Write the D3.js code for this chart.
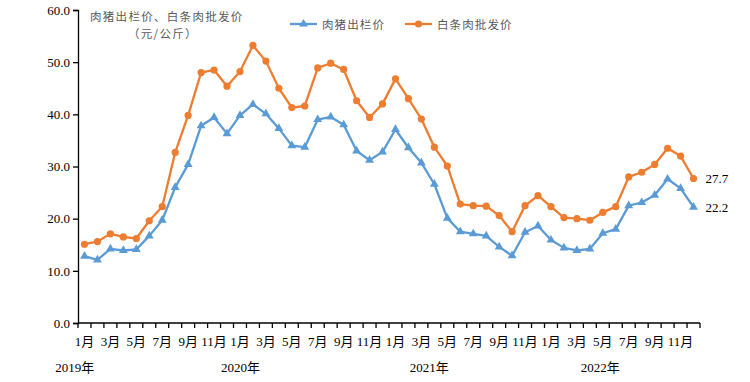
<!DOCTYPE html>
<html><head><meta charset="utf-8">
<script src="https://cdn.jsdelivr.net/npm/d3@7"></script>
<style>body{margin:0;background:#fff}svg{display:block}</style>
</head><body><svg id="c" width="750" height="382"></svg>
<script>
const months = [];
for (let y = 0; y < 4; y++) for (let m = 1; m <= 12; m++) months.push(m + "月");
const yearLabels = ["2019年", "2020年", "2021年", "2022年"];
const yearAt = [-0.75, 12.05, 26.6, 39.8];
const hogPrice = [12.8,12.1,14.2,13.9,14.1,16.7,19.7,26.0,30.4,37.8,39.4,36.3,
  39.8,41.9,40.1,37.3,34.0,33.7,39.0,39.5,38.0,33.0,31.2,32.8,
  37.1,33.6,30.7,26.6,20.1,17.5,17.1,16.7,14.6,12.9,17.4,18.6,
  15.9,14.4,13.9,14.2,17.2,18.0,22.5,23.1,24.5,27.6,25.8,22.2];
const porkPrice = [15.1,15.6,17.1,16.5,16.2,19.6,22.3,32.7,39.8,48.0,48.5,45.4,
  48.2,53.2,50.2,45.0,41.3,41.6,48.9,49.8,48.6,42.6,39.4,42.0,
  46.8,43.0,39.1,33.7,30.1,22.8,22.5,22.4,20.6,17.5,22.5,24.4,
  22.3,20.2,20.0,19.7,21.2,22.3,28.0,28.9,30.4,33.5,32.0,27.7];
const yTicks = [0,10,20,30,40,50,60];
const seriesNames = ["肉猪出栏价", "白条肉批发价"];
const colors = ["#5B9BD5", "#ED7D31"];

const svg = d3.select("#c");
const L = 78, R = 700, T = 10, B = 323;
const x = d3.scaleBand().domain(d3.range(months.length)).range([L, R]).padding(0);
const xc = i => x(i) + x.bandwidth() / 2;
const y = d3.scaleLinear().domain([0, 60]).range([B, T]);
const serif = "'Liberation Serif','Times New Roman',serif";
const cjk = "'Liberation Serif','Noto Sans CJK SC',serif";
const sans = "'Noto Sans CJK SC',sans-serif";

// y axis
const yAxis = d3.axisLeft(y).tickValues(yTicks).tickFormat(d3.format(".1f")).tickSize(5).tickPadding(3);
const ga = svg.append("g").attr("transform", `translate(${L},0)`).call(yAxis);
ga.select(".domain").attr("stroke", "#000").attr("stroke-width", 1.3);
ga.selectAll(".tick line").attr("stroke", "#000").attr("stroke-width", 1.3);
ga.selectAll("text").attr("font-family", serif).attr("font-size", 13).attr("fill", "#000");

// x axis
svg.append("line").attr("x1", L).attr("x2", R).attr("y1", B).attr("y2", B).attr("stroke", "#000").attr("stroke-width", 1.3);
const bounds = d3.range(months.length + 1).map(i => i < months.length ? x(i) : R);
svg.selectAll(".xt").data(bounds).join("line")
  .attr("x1", d => d).attr("x2", d => d).attr("y1", B).attr("y2", B + 5)
  .attr("stroke", "#000").attr("stroke-width", 1.3);
svg.selectAll(".xl").data(months.map((m, i) => ({m, i})).filter(d => d.i % 2 === 0)).join("text")
  .attr("x", d => xc(d.i)).attr("y", 346).attr("text-anchor", "middle")
  .attr("font-family", cjk).attr("font-size", 13).text(d => d.m);
svg.selectAll(".yl").data(yearLabels).join("text")
  .attr("x", (d, i) => xc(0) + yearAt[i] * x.bandwidth()).attr("y", 372).attr("text-anchor", "middle")
  .attr("font-family", cjk).attr("font-size", 13).text(d => d);

// lines
const line = d3.line().x((d, i) => xc(i)).y(d => y(d));
[hogPrice, porkPrice].forEach((data, k) => {
  svg.append("path").datum(data).attr("d", line).attr("fill", "none")
    .attr("stroke", colors[k]).attr("stroke-width", 2.3).attr("stroke-linejoin", "round");
});
const tri = d3.symbol().type(d3.symbolTriangle).size(34);
svg.selectAll(".m0").data(hogPrice).join("path")
  .attr("d", tri).attr("transform", (d, i) => `translate(${xc(i)},${y(d)})`).attr("fill", colors[0]);
svg.selectAll(".m1").data(porkPrice).join("circle")
  .attr("cx", (d, i) => xc(i)).attr("cy", d => y(d)).attr("r", 3.6).attr("fill", colors[1]);

// end labels
[porkPrice, hogPrice].forEach(data => {
  const n = data.length - 1;
  svg.append("text").attr("x", xc(n) + 12).attr("y", y(data[n]) + 5)
    .attr("font-family", serif).attr("font-size", 13).text(data[n].toFixed(1));
});

// title
svg.append("text").attr("x", 90).attr("y", 21).attr("font-family", sans)
  .attr("font-size", 11.5).attr("fill", "#595959").attr("letter-spacing", 1.3).text("肉猪出栏价、白条肉批发价");
svg.append("text").attr("x", 128).attr("y", 38).attr("font-family", sans)
  .attr("font-size", 11.5).attr("fill", "#595959").attr("letter-spacing", 1.3).text("（元/公斤）");

// legend
const legX = [290, 405];
seriesNames.forEach((name, k) => {
  const g = svg.append("g").attr("transform", `translate(${legX[k]},24)`);
  g.append("line").attr("x1", 0).attr("x2", 27).attr("stroke", colors[k]).attr("stroke-width", 2.3);
  if (k === 0) g.append("path").attr("d", tri).attr("transform", "translate(13.5,0)").attr("fill", colors[k]);
  else g.append("circle").attr("cx", 13.5).attr("r", 3.6).attr("fill", colors[k]);
  g.append("text").attr("x", 32).attr("y", 4.5).attr("font-family", sans)
    .attr("font-size", 11.5).attr("fill", "#595959").attr("letter-spacing", 1.1).text(name);
});
</script></body></html>
